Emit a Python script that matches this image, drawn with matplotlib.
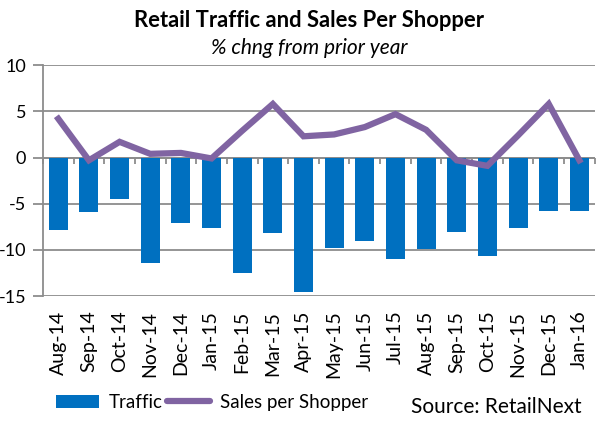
import matplotlib
matplotlib.use("Agg")
import matplotlib.pyplot as plt
import numpy as np
from matplotlib.lines import Line2D
from matplotlib.patches import Patch

months = ["Aug-14", "Sep-14", "Oct-14", "Nov-14", "Dec-14", "Jan-15", "Feb-15", "Mar-15",
          "Apr-15", "May-15", "Jun-15", "Jul-15", "Aug-15", "Sep-15", "Oct-15", "Nov-15",
          "Dec-15", "Jan-16"]
traffic = [-7.9, -5.9, -4.5, -11.4, -7.1, -7.6, -12.5, -8.2, -14.6, -9.8, -9.0, -11.0,
           -9.9, -8.1, -10.7, -7.6, -5.8, -5.8]
sales_per_shopper = [4.2, -0.3, 1.7, 0.4, 0.5, -0.1, 2.9, 5.8, 2.3, 2.5, 3.3, 4.7,
                     3.0, -0.3, -0.9, 2.4, 5.8, -0.3]
yticks = [10, 5, 0, -5, -10, -15]

plt.rcParams['font.family'] = ['Lato', 'DejaVu Sans']

fig = plt.figure(figsize=(6.05, 4.26), dpi=100)
ax = fig.add_axes([0.071, 0.305, 0.912, 0.542])

x = np.arange(len(months))
ax.bar(x, traffic, width=0.62, color="#0070C0", zorder=2)
ax.plot(x, sales_per_shopper, color="#8064A2", linewidth=4.5, zorder=3,
        solid_joinstyle="miter")

ymin, ymax = -15, 10
ax.set_xlim(-0.5, len(months) - 0.5)
ax.set_ylim(ymin, ymax)
ax.set_yticks(yticks)
ax.set_yticklabels([str(v) for v in yticks], fontsize=13)
ax.yaxis.grid(True, color="#8c8c8c", linewidth=1.3, zorder=0)
ax.tick_params(axis="y", length=7, width=1.3, color="#8c8c8c", pad=5)
ax.set_xticks(x)
ax.set_xticklabels(months, rotation=90, fontsize=14)
ax.tick_params(axis="x", length=0, pad=10.5)
for s in ["top", "right", "bottom"]:
    ax.spines[s].set_visible(False)
ax.spines["left"].set_color("#8c8c8c")
ax.spines["left"].set_linewidth(1.3)

# category axis drawn along the zero line, with boundary tick marks
zero_frac = (0 - ymin) / (ymax - ymin)
sec = ax.secondary_xaxis(zero_frac)
sec.set_xticks(np.arange(len(months) + 1) - 0.5)
sec.set_xticklabels([])
sec.tick_params(axis="x", direction="in", length=4, width=1.3, color="#8c8c8c")
sec.spines["top"].set_visible(False)
sec.spines["bottom"].set_color("#8c8c8c")
sec.spines["bottom"].set_linewidth(1.3)
ax.axhline(0, color="#8c8c8c", linewidth=1.3, zorder=1)

fig.text(0.51, 0.951, "Retail Traffic and Sales Per Shopper", ha="center", va="center",
         fontsize=15.8, fontweight="bold")
fig.text(0.511, 0.887, "% chng from prior year", ha="center", va="center",
         fontsize=15, fontstyle="italic")

handles = [Patch(facecolor="#0070C0", edgecolor="none"),
           Line2D([0], [0], color="#8064A2", linewidth=4.5, solid_capstyle="round")]
fig.legend(handles, ["Traffic", "Sales per Shopper"], loc="center left",
           bbox_to_anchor=(0.065, 0.056), ncol=2, frameon=False, fontsize=13.5,
           handlelength=2.3, handletextpad=0.5, columnspacing=0.25)
fig.text(0.962, 0.045, "Source: RetailNext", ha="right", va="center", fontsize=15)

fig.savefig("out.png", dpi=100)
